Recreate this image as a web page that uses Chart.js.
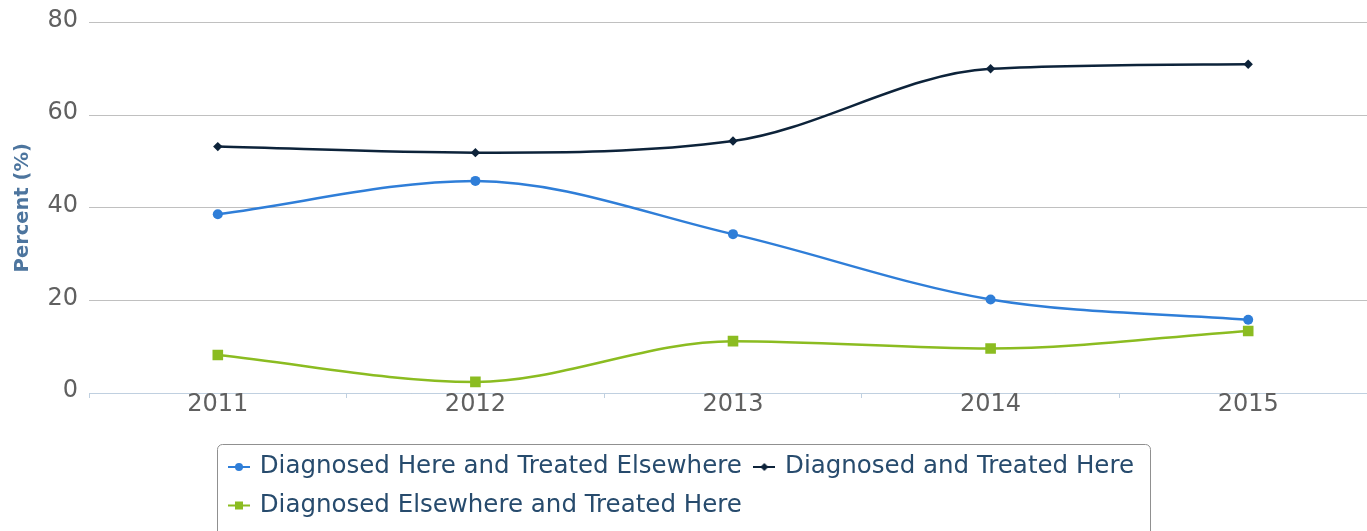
<!DOCTYPE html>
<html>
<head>
<meta charset="utf-8">
<script src="https://cdn.jsdelivr.net/npm/chart.js@4.4.1/dist/chart.umd.min.js"></script>
<style>
  html, body { margin: 0; padding: 0; background: #ffffff; overflow: hidden; }
  #wrap { width: 1367px; height: 531px; overflow: hidden; position: relative; }
  canvas { display: block; }
</style>
</head>
<body>
<div id="wrap"><canvas id="c" width="1377" height="531"></canvas></div>
<script>
const categories = ['2011', '2012', '2013', '2014', '2015'];
const diagnosedHereTreatedElsewhere = [38.6, 45.8, 34.3, 20.2, 15.8];
const diagnosedAndTreatedHere = [53.2, 51.9, 54.4, 70.0, 71.0];
const diagnosedElsewhereTreatedHere = [8.2, 2.4, 11.2, 9.6, 13.4];
const seriesNames = ['Diagnosed Here and Treated Elsewhere', 'Diagnosed and Treated Here', 'Diagnosed Elsewhere and Treated Here'];
const yTicks = [0, 20, 40, 60, 80];

const colors = ['#2f7ed8', '#0d233a', '#8bbc21'];
const FONT = "'DejaVu Sans', Verdana, sans-serif";

function legendIcon(color, kind) {
  const cv = document.createElement('canvas');
  cv.width = 22; cv.height = 12;
  const g = cv.getContext('2d');
  g.strokeStyle = color; g.lineWidth = 2;
  g.beginPath(); g.moveTo(0, 6); g.lineTo(22, 6); g.stroke();
  g.fillStyle = color;
  g.beginPath();
  if (kind === 'circle') { g.arc(11, 6, 4, 0, Math.PI * 2); }
  else if (kind === 'diamond') { g.moveTo(11, 2); g.lineTo(15, 6); g.lineTo(11, 10); g.lineTo(7, 6); g.closePath(); }
  else { g.rect(7, 2, 8, 8); }
  g.fill();
  return cv;
}
const legendIcons = [legendIcon(colors[0], 'circle'), legendIcon(colors[1], 'diamond'), legendIcon(colors[2], 'square')];

const legendBoxPlugin = {
  id: 'legendBox',
  afterLayout(chart) {
    chart.legend.left = 216.5;
  },
  afterDraw(chart) {
    const ctx = chart.ctx;
    ctx.save();
    ctx.strokeStyle = '#909090';
    ctx.lineWidth = 1;
    ctx.beginPath();
    ctx.roundRect(217.5, 444.5, 933, 100, 5);
    ctx.stroke();
    ctx.restore();
  }
};

new Chart(document.getElementById('c'), {
  type: 'line',
  data: {
    labels: categories,
    datasets: [
      { label: seriesNames[0], data: diagnosedHereTreatedElsewhere, borderColor: colors[0], backgroundColor: colors[0],
        pointStyle: 'circle', pointRadius: 5, pointHoverRadius: 5, borderWidth: 2.5, pointBorderWidth: 0 },
      { label: seriesNames[1], data: diagnosedAndTreatedHere, borderColor: colors[1], backgroundColor: colors[1],
        pointStyle: 'rectRot', pointRadius: 4.7, pointHoverRadius: 4.7, borderWidth: 2.5, pointBorderWidth: 0 },
      { label: seriesNames[2], data: diagnosedElsewhereTreatedHere, borderColor: colors[2], backgroundColor: colors[2],
        pointStyle: 'rect', pointRadius: 7.5, pointHoverRadius: 7.5, borderWidth: 2.5, pointBorderWidth: 0 }
    ]
  },
  options: {
    responsive: false,
    animation: false,
    devicePixelRatio: 1,
    elements: { line: { cubicInterpolationMode: 'monotone' } },
    layout: { autoPadding: false, padding: { top: 22.5, right: 0, bottom: 3.25, left: 0 } },
    plugins: {
      tooltip: { enabled: false },
      legend: {
        position: 'bottom',
        align: 'start',
        labels: {
          usePointStyle: true,
          pointStyleWidth: 17,
          padding: 14,
          color: '#274b6d',
          font: { family: FONT, size: 24.5 },
          sort: (a, b) => a.datasetIndex - b.datasetIndex,
          generateLabels(chart) {
            const items = Chart.defaults.plugins.legend.labels.generateLabels(chart);
            items.forEach((it) => { it.pointStyle = legendIcons[it.datasetIndex]; it.fontColor = '#274b6d'; });
            return items;
          }
        }
      }
    },
    scales: {
      x: {
        type: 'category',
        offset: true,
        grid: { display: true, drawOnChartArea: false, drawTicks: true, tickLength: 5, color: '#C0D0E0', offset: true },
        border: { display: true, color: '#C0D0E0', width: 1 },
        ticks: { color: '#606060', font: { family: FONT, size: 24 }, padding: -8, maxRotation: 0, autoSkip: false },
        afterFit(scale) { scale.height = 47.75; }
      },
      y: {
        min: 0, max: 80,
        afterBuildTicks(scale) { scale.ticks = yTicks.map(v => ({ value: v })); },
        grid: { color: '#C0C0C0', lineWidth: 1, drawTicks: false },
        border: { display: false },
        ticks: { color: '#606060', font: { family: FONT, size: 24 }, padding: 11, labelOffset: -2 },
        title: { display: true, text: 'Percent (%)', color: '#4d759e', font: { family: FONT, size: 19.5, weight: 'bold' }, padding: { top: 11, bottom: 0 } },
        afterFit(scale) { scale.width = 89; scale.paddingTop = 0; scale.paddingBottom = 0; }
      }
    }
  },
  plugins: [legendBoxPlugin]
});
</script>
</body>
</html>
